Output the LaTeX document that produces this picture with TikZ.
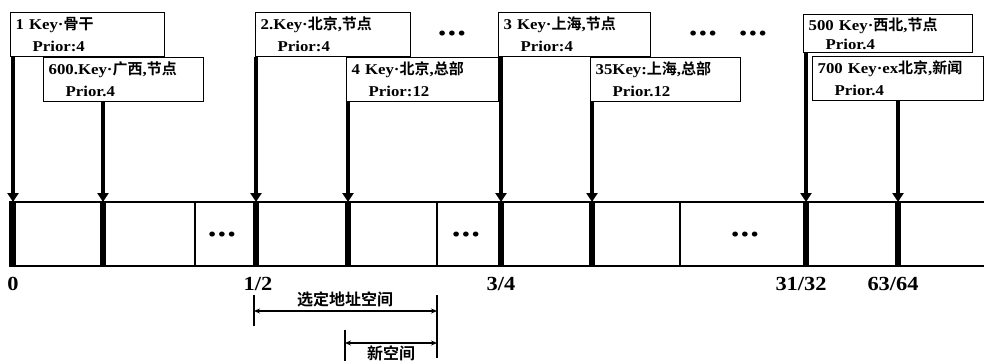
\documentclass[tikz,border=0pt]{standalone}
\usepackage{fontspec}
\setmainfont{Liberation Serif}[FakeStretch=1.12]
\newfontfamily\cjk{Noto Sans CJK SC}[BoldFont={Noto Sans CJK SC Bold}]
\newcommand{\zh}[1]{{\cjk\bfseries #1}}
\usetikzlibrary{arrows.meta}
\tikzset{
  kbox/.style={draw, fill=white, line width=1.3pt, anchor=north west, minimum height=44pt,
    inner xsep=5pt, inner ysep=1pt, align=left, font=\fontsize{15pt}{22pt}\selectfont\bfseries},
  bar/.style={line width=4pt, -{Triangle[length=9pt,width=11pt]}},
  barin/.style={line width=6pt},
  cell/.style={line width=1.4pt},
  lab/.style={font=\fontsize{20pt}{20pt}\selectfont\bfseries},
  dots/.style={font=\fontsize{21pt}{21pt}\selectfont},
  dim/.style={line width=1.8pt, {Stealth[length=6pt,width=5pt]}-{Stealth[length=6pt,width=5pt]}},
  tick/.style={line width=1.4pt},
  zhlab/.style={font=\fontsize{16pt}{16pt}\selectfont}
}
\newcommand{\dd}{\textbullet\hspace{1.5pt}\textbullet\hspace{1.5pt}\textbullet}
\begin{document}
\begin{tikzpicture}[x=1pt,y=-1pt]
\useasboundingbox (0,0) rectangle (984,362);
% row of cells
\draw[cell] (984,202) -- (10,202) -- (10,266) -- (984,266);
\draw[cell] (195,202) -- (195,266);
\draw[cell] (437,202) -- (437,266);
\draw[cell] (680,202) -- (680,266);
\node[dots] (c1) at (222,237) {\dd};
\node[dots] (c2) at (466,237) {\dd};
\node[dots] (c3) at (745,237) {\dd};
% bar coordinates (row top) and bottoms
\foreach \n/\x in {a/13,b/103,c/256,d/348,e/501,f/592,g/806,h/898}{
  \coordinate (t\n) at (\x,202);
  \coordinate (u\n) at (\x,266);
}
% key boxes
\node[kbox, minimum width=154pt, text width=144pt] (k1) at (10,12) {1 Key\textperiodcentered\zh{骨干}\\\hspace*{17pt}Prior:4};
\node[kbox, minimum width=160pt, text width=150pt] (k600) at (43,57) {600.Key\textperiodcentered\zh{广西},\zh{节点}\\\hspace*{17pt}Prior.4};
\node[kbox, minimum width=155pt, text width=145pt] (k2) at (255,12) {2.Key\textperiodcentered\zh{北京},\zh{节点}\\\hspace*{17pt}Prior:4};
\node[kbox, minimum width=152pt, text width=142pt] (k4) at (346,57) {4 Key\textperiodcentered\zh{北京},\zh{总部}\\\hspace*{17pt}Prior:12};
\node[kbox, minimum width=152pt, text width=142pt] (k3) at (498,12) {3 Key\textperiodcentered\zh{上海},\zh{节点}\\\hspace*{17pt}Prior:4};
\node[kbox, minimum width=150pt, text width=140pt] (k35) at (590,57) {35Key:\zh{上海},\zh{总部}\\\hspace*{17pt}Prior.12};
\node[kbox, minimum width=169pt, text width=159pt, minimum height=38pt, inner ysep=0pt,
      font=\fontsize{15pt}{19pt}\selectfont\bfseries] (k500) at (803,14) {500 Key\textperiodcentered\zh{西北},\zh{节点}\\\hspace*{17pt}Prior.4};
\node[kbox, minimum width=171pt, text width=161pt] (k700) at (812,56) {700 Key\textperiodcentered ex\zh{北京},\zh{新闻}\\\hspace*{17pt}Prior.4};
\node[dots] (d1) at (452,36) {\dd};
\node[dots] (d2) at (703,36) {\dd};
\node[dots] (d3) at (753,36) {\dd};
% bars with arrows
\draw[bar] (k1.south -| ta) -- (ta);
\draw[bar] (k600.south -| tb) -- (tb);
\draw[bar] (k2.south -| tc) -- (tc);
\draw[bar] (k4.south -| td) -- (td);
\draw[bar] (k3.south -| te) -- (te);
\draw[bar] (k35.south -| tf) -- (tf);
\draw[bar] (k500.south -| tg) -- (tg);
\draw[bar] (k700.south -| th) -- (th);
\foreach \n in {a,b,c,d,e,f,g,h}{ \draw[barin] (t\n) -- (u\n); }
% labels
\node[lab] (l0) at (13,284) {0};
\node[lab] (l1) at (258,284) {1/2};
\node[lab] (l2) at (501,284) {3/4};
\node[lab] (l3) at (801,284) {31/32};
\node[lab] (l4) at (893,284) {63/64};
% dimension brackets
\coordinate (s1) at (254,311);
\coordinate (s2) at (437,311);
\coordinate (n1) at (345,343);
\coordinate (n2) at (437,343);
\draw[tick] (254,295) -- (254,326);
\draw[tick] (437,295) -- (437,358);
\draw[tick] (345,330) -- (345,361);
\draw[dim] (s1) -- (s2);
\draw[dim] (n1) -- (n2);
\node[zhlab] (sel) at (345,299) {\zh{选定地址空间}};
\node[zhlab] (nsp) at (391,353) {\zh{新空间}};
\end{tikzpicture}
\end{document}
